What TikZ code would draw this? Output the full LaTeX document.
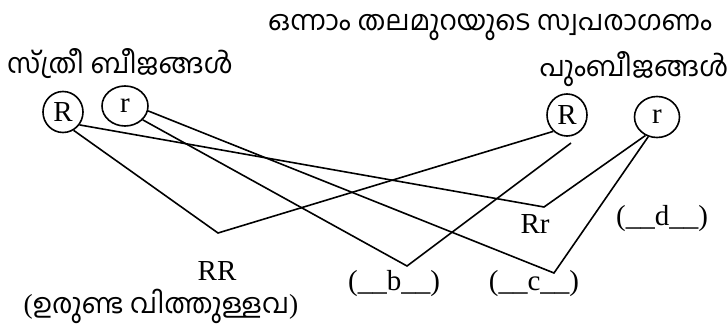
\documentclass[tikz,border=0pt]{standalone}
\usepackage{fontspec}
\setmainfont{Liberation Serif}
\newfontfamily\mlfont[Script=Malayalam]{Hind Kochi}
\usetikzlibrary{shapes.geometric}
\begin{document}
\begin{tikzpicture}[x=1pt,y=-1pt,
  gamete/.style={draw,ellipse,line width=1.6pt,inner sep=0pt,
    font=\fontsize{29}{29}\selectfont},
  cross/.style={line width=1.6pt,line join=miter},
  mltext/.style={inner sep=0pt,anchor=base,font=\mlfont\fontsize{27.5}{30}\selectfont},
  geno/.style={inner sep=0pt,anchor=base,font=\fontsize{29}{29}\selectfont}]
\useasboundingbox (0,0) rectangle (728,326);

% headings
\node[mltext] (title) at (490,31) {ഒന്നാം തലമുറയുടെ സ്വപരാഗണം};
\node[mltext] (female) at (120,74) {സ്ത്രീ ബീജങ്ങൾ};
\node[mltext] (male) at (634,77) {പുംബീജങ്ങൾ};

% gametes
\node[gamete,minimum width=40pt,minimum height=41pt] (fR) at (63,112) {R};
\node[gamete,minimum width=46pt,minimum height=40pt] (fr) at (125,106) {r};
\node[gamete,minimum width=40pt,minimum height=42pt] (mR) at (567,115) {R};
\node[gamete,minimum width=45pt,minimum height=41pt] (mr) at (657,117) {r};

% meeting points of the crossing lines
\coordinate (vRR) at (218,233);
\coordinate (vRr) at (544,207);
\coordinate (vb) at (407,266);
\coordinate (vc) at (554,273);
\coordinate (mRtail) at (571,143);

\draw[cross] (fR.-60) -- (vRR) -- (mR.-130);
\draw[cross] (fR.-38) -- (vRr) -- (mr.-122);
\draw[cross] (fr.-38) -- (vb) -- (mRtail);
\draw[cross] (fr.-12) -- (vc) -- (mr.-114);

% offspring
\node[geno] (RR) at (217,280) {RR};
\node[mltext] (round) at (161,313) {{\rmfamily(}ഉരുണ്ട വിത്തുള്ളവ{\rmfamily)}};
\node[geno] (Rr) at (535,233) {Rr};
\node[geno] (b) at (394,290) {(\_\_b\_\_)};
\node[geno] (c) at (534,290) {(\_\_c\_\_)};
\node[geno] (d) at (662,225) {(\_\_d\_\_)};
\end{tikzpicture}
\end{document}
